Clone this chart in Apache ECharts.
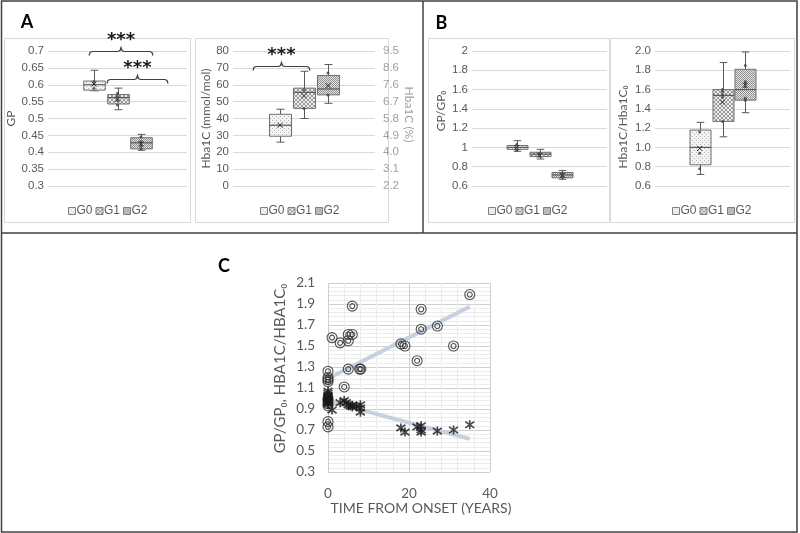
<!DOCTYPE html>
<html><head><meta charset="utf-8">
<script src="https://cdn.jsdelivr.net/npm/echarts@6/dist/echarts.min.js"></script>
<style>html,body{margin:0;padding:0;background:#fff}#c{width:800px;height:533px}</style>
</head><body><div id="c"></div>
<script>
// ---------------- data ----------------
const groups = ['G0', 'G1', 'G2'];
// box stats: [group index, min, q1, median, q3, max, mean]
const gpBoxes = [
  [0, 0.582, 0.584, 0.600, 0.611, 0.643, 0.602],
  [1, 0.526, 0.543, 0.562, 0.571, 0.590, 0.557],
  [2, 0.406, 0.410, 0.428, 0.443, 0.453, 0.425]
];
const gpPoints = [[0, 0.61], [0, 0.59], [1, 0.575], [1, 0.566], [1, 0.553], [1, 0.54], [2, 0.445], [2, 0.432], [2, 0.418], [2, 0.41]];
const hbaBoxes = [
  [0, 26, 29.5, 36, 42.5, 45.5, 36],
  [1, 40, 46, 55.5, 58, 68, 53.5],
  [2, 49, 54, 57.5, 65.5, 72, 59.5]
];
const hbaPoints = [[1, 57], [1, 46], [2, 67], [2, 54]];
const hbaPctLabels = ['2.2', '3.1', '4.0', '4.9', '5.8', '6.7', '7.6', '8.6', '9.5'];
const gpRatioBoxes = [
  [0, 0.96, 0.98, 1.0, 1.02, 1.07, 1.0],
  [1, 0.88, 0.905, 0.93, 0.95, 0.98, 0.92],
  [2, 0.67, 0.685, 0.715, 0.74, 0.76, 0.71]
];
const gpRatioPoints = [[0, 0.97], [0, 1.03], [1, 0.91], [1, 0.94], [2, 0.69], [2, 0.73]];
const hbaRatioBoxes = [
  [0, 0.72, 0.82, 1.0, 1.18, 1.26, 0.99],
  [1, 1.11, 1.27, 1.54, 1.60, 1.88, 1.47],
  [2, 1.36, 1.49, 1.60, 1.81, 1.99, 1.645]
];
const hbaRatioPoints = [[0, 1.16], [0, 0.94], [0, 0.78], [1, 1.60], [1, 1.58], [1, 1.55], [1, 1.52], [1, 1.27],
  [2, 1.85], [2, 1.68], [2, 1.66], [2, 1.63], [2, 1.51], [2, 1.49]];
// significance brackets: [from, to, level]
const gpBrackets = [[-0.21, 2.51, 0.70], [0.55, 3.15, 0.618]];
const hbaBrackets = [[-1.125, 1.25, 71]];
// panel C: [years from onset, ratio]
const timeHba = [[0, 1.26], [0, 1.2], [0, 1.18], [0, 1.16], [0, 1.0], [0, 0.98], [0, 0.95], [0, 0.93], [0, 0.78], [0, 0.73],
  [1, 1.58], [3, 1.53], [4, 1.11], [5, 1.28], [5, 1.55], [5, 1.61], [6, 1.61], [6, 1.88], [7.8, 1.28], [8.1, 1.28],
  [18, 1.52], [19, 1.5], [22, 1.36], [23, 1.85], [23, 1.66], [27, 1.69], [31, 1.5], [35, 1.99]];
const timeGp = [[0, 1.07], [0, 1.05], [0, 1.03], [0, 1.02], [0, 1.01], [0, 1.0], [0, 0.99], [0, 0.98], [0, 0.97], [0, 0.96], [0, 0.95],
  [1, 0.89], [3, 0.96], [4, 0.98], [4.5, 0.96], [5, 0.94], [5.5, 0.93], [6, 0.935], [6, 0.92], [7, 0.925], [8, 0.94], [8, 0.91], [8, 0.87],
  [18, 0.72], [19, 0.68], [22, 0.73], [23, 0.74], [23, 0.70], [23, 0.68], [27, 0.69], [31, 0.70], [35, 0.75]];
const hbaTrend = [[0, 1.19], [35, 1.875]];
const gpTrend = [[0, 0.975], [35, 0.615]];

// ---------------- styling helpers ----------------
const NARROW = '"Liberation Sans Narrow", "Liberation Sans", sans-serif';
const LATO = 'Lato, "Open Sans", sans-serif';
const TXT = '#595959';
const GRIDC = '#d9d9d9';

function makePattern(kind) {
  const c = document.createElement('canvas');
  c.width = 4; c.height = 4;
  const g = c.getContext('2d');
  if (kind === 0) {
    g.fillStyle = '#f3f3f3'; g.fillRect(0, 0, 4, 4);
    g.fillStyle = '#b4b4b4'; g.fillRect(0, 0, 1, 1); g.fillRect(2, 2, 1, 1);
  } else if (kind === 1) {
    g.fillStyle = '#eeeeee'; g.fillRect(0, 0, 4, 4);
    g.fillStyle = '#9a9a9a';
    [[0,0],[1,1],[2,2],[3,3],[0,3],[1,2],[2,1],[3,0]].forEach(p => g.fillRect(p[0], p[1], 1, 1));
  } else {
    g.fillStyle = '#e4e4e4'; g.fillRect(0, 0, 4, 4);
    g.fillStyle = '#8f8f8f';
    [[0,0],[2,0],[1,1],[3,1],[0,2],[2,2],[1,3],[3,3]].forEach(p => g.fillRect(p[0], p[1], 1, 1));
  }
  return { image: c, repeat: 'repeat' };
}
const patterns = [makePattern(0), makePattern(1), makePattern(2)];

function boxRender(k) {
  return function (params, api) {
    const x = api.value(0);
    const v = [1, 2, 3, 4, 5, 6].map(i => api.value(i));
    const P = v.map(y => api.coord([x, y]));
    const cx = Math.round(P[0][0]) + 0.5;
    const w = api.size([1, 0])[0] * 0.92;
    const cap = w * 0.36;
    const st = { stroke: '#595959', lineWidth: 1 };
    const ln = (x1, y1, x2, y2, s) => ({ type: 'line', shape: { x1, y1, x2, y2 }, style: s || st });
    const mx = P[5][0], my = P[5][1];
    return {
      type: 'group', children: [
        ln(cx, P[3][1], cx, P[4][1]),
        ln(cx, P[1][1], cx, P[0][1]),
        ln(cx - cap / 2, P[4][1], cx + cap / 2, P[4][1]),
        ln(cx - cap / 2, P[0][1], cx + cap / 2, P[0][1]),
        { type: 'rect', shape: { x: cx - w / 2, y: P[3][1], width: w, height: P[1][1] - P[3][1] },
          style: { fill: patterns[k], stroke: '#6f6f6f', lineWidth: 1 } },
        ln(cx - w / 2, P[2][1], cx + w / 2, P[2][1], { stroke: '#595959', lineWidth: 1.2 }),
        ln(mx - 2.5, my - 2.5, mx + 2.5, my + 2.5, { stroke: '#262626', lineWidth: 1 }),
        ln(mx - 2.5, my + 2.5, mx + 2.5, my - 2.5, { stroke: '#262626', lineWidth: 1 })
      ]
    };
  };
}

function bracketRender(params, api) {
  const a = api.coord([api.value(0), api.value(2)]);
  const b = api.coord([api.value(1), api.value(2)]);
  const y = Math.round(a[1]) + 0.5, x1 = a[0], x2 = b[0], xc = (x1 + x2) / 2;
  return {
    type: 'group', children: [
      { type: 'polyline', shape: { points: [[x1, y + 4], [x1 + 1, y + 1], [x1 + 3, y], [xc - 3, y], [xc - 1, y - 1], [xc, y - 4],
        [xc + 1, y - 1], [xc + 3, y], [x2 - 3, y], [x2 - 1, y + 1], [x2, y + 4]] },
        style: { stroke: '#404040', lineWidth: 1.2, fill: null } },
      { type: 'text', style: { text: '***', x: xc, y: y - 11, align: 'center', verticalAlign: 'middle',
        font: 'bold 18px "DejaVu Sans"', fill: '#1a1a1a' } }
    ]
  };
}

const boxX = gi => ({ type: 'value', gridIndex: gi, min: -1.957, max: 3.957, show: false });
const baseY = (gi, extra) => Object.assign({
  type: 'value', gridIndex: gi, axisLine: { show: false }, axisTick: { show: false },
  splitLine: { lineStyle: { color: GRIDC, width: 1 } },
  axisLabel: { color: TXT, fontSize: 11.5, fontFamily: NARROW, margin: 4 },
  nameLocation: 'middle', nameTextStyle: { color: TXT, fontSize: 12, fontFamily: LATO }
}, extra);

const option = {
  animation: false,
  grid: [
    { left: 48, top: 51, width: 139, height: 135 },
    { left: 233, top: 51, width: 142, height: 135 },
    { left: 472, top: 51, width: 135, height: 135 },
    { left: 655, top: 51, width: 135, height: 135 },
    { left: 328, top: 283, width: 162, height: 189 }
  ],
  xAxis: [boxX(0), boxX(1), boxX(2), boxX(3), {
    type: 'value', gridIndex: 4, min: 0, max: 40, interval: 20,
    axisLine: { show: false }, axisTick: { show: false },
    minorTick: { show: false, splitNumber: 5 },
    splitLine: { lineStyle: { color: '#cfcfcf' } },
    minorSplitLine: { show: true, lineStyle: { color: '#ececec' } },
    axisLabel: { color: TXT, fontSize: 13.5, fontFamily: LATO, margin: 15 },
    name: 'TIME FROM ONSET (YEARS)', nameLocation: 'middle', nameGap: 27,
    nameTextStyle: { color: TXT, fontSize: 14, fontFamily: LATO, padding: [0, 0, 0, 24] }
  }],
  yAxis: [
    baseY(0, { min: 0.3, max: 0.7, interval: 0.05, name: 'GP', nameGap: 31 }),
    baseY(1, { min: 0, max: 80, interval: 10, name: 'Hba1C (mmol/mol)', nameGap: 18 }),
    baseY(1, { min: 0, max: 80, interval: 10, position: 'right', splitLine: { show: false },
      axisLabel: { color: '#a0a0a0', fontSize: 11.5, fontFamily: NARROW, margin: 8,
        formatter: v => hbaPctLabels[Math.round(v / 10)] },
      name: 'Hba1C (%)', nameRotate: -90, nameGap: 26,
      nameTextStyle: { color: '#a0a0a0', fontSize: 12, fontFamily: LATO, padding: [0, 8, 0, 0] } }),
    baseY(2, { min: 0.6, max: 2, interval: 0.2, name: 'GP/GP₀', nameGap: 25,
      nameTextStyle: { color: TXT, fontSize: 12, fontFamily: LATO, padding: [0, 0, 0, 15] } }),
    baseY(3, { min: 0.6, max: 2.0, interval: 0.2, name: 'Hba1C/Hba1C₀', nameGap: 26,
      axisLabel: { color: TXT, fontSize: 11.5, fontFamily: NARROW, margin: 4, formatter: v => v.toFixed(1) },
      nameTextStyle: { color: TXT, fontSize: 12, fontFamily: LATO, padding: [0, 17, 0, 0] } }),
    {
      type: 'value', gridIndex: 4, min: 0.3, max: 2.1, interval: 0.2,
      axisLine: { show: false }, axisTick: { show: false },
      minorTick: { show: false, splitNumber: 5 },
      splitLine: { lineStyle: { color: '#cfcfcf' } },
      minorSplitLine: { show: true, lineStyle: { color: '#ececec' } },
      axisLabel: { color: TXT, fontSize: 13.5, fontFamily: LATO, margin: 13 },
      name: 'GP/GP₀, HBA1C/HBA1C₀', nameLocation: 'middle', nameGap: 40,
      nameTextStyle: { color: TXT, fontSize: 15, fontFamily: LATO, padding: [0, 0, 0, 18] }
    }
  ],
  legend: [63, 255, 483, 667].map(l => ({
    left: l, top: 200, itemWidth: 7, itemHeight: 7, itemGap: 3, icon: 'rect', selectedMode: false,
    textStyle: { color: TXT, fontSize: 12, fontFamily: NARROW, padding: [0, 0, 0, -4] },
    data: groups.map((g, k) => ({ name: g, itemStyle: { color: patterns[k], borderColor: '#7f7f7f', borderWidth: 1 } }))
  })),
  series: [],
  graphic: []
};

const panels = [
  { boxes: gpBoxes, points: gpPoints, xi: 0, yi: 0 },
  { boxes: hbaBoxes, points: hbaPoints, xi: 1, yi: 1 },
  { boxes: gpRatioBoxes, points: gpRatioPoints, xi: 2, yi: 3 },
  { boxes: hbaRatioBoxes, points: hbaRatioPoints, xi: 3, yi: 4 }
];
panels.forEach(p => {
  p.boxes.forEach((b, k) => option.series.push({
    type: 'custom', name: groups[k], xAxisIndex: p.xi, yAxisIndex: p.yi, data: [b],
    renderItem: boxRender(k), encode: { x: 0, y: [1, 2, 3, 4, 5] }, z: 2, silent: true,
    itemStyle: { color: patterns[k], borderColor: '#7f7f7f' }
  }));
  option.series.push({
    type: 'scatter', xAxisIndex: p.xi, yAxisIndex: p.yi, data: p.points, symbolSize: 3,
    itemStyle: { color: '#404040' }, z: 3, silent: true
  });
});
option.series.push(
  { type: 'custom', xAxisIndex: 0, yAxisIndex: 0, data: gpBrackets, renderItem: bracketRender, encode: { x: [0, 1], y: 2 }, silent: true, z: 4 },
  { type: 'custom', xAxisIndex: 1, yAxisIndex: 1, data: hbaBrackets, renderItem: bracketRender, encode: { x: [0, 1], y: 2 }, silent: true, z: 4 },
  { type: 'line', xAxisIndex: 4, yAxisIndex: 5, data: hbaTrend, symbol: 'none', lineStyle: { color: '#c6d0e0', width: 4 }, z: 1, silent: true },
  { type: 'line', xAxisIndex: 4, yAxisIndex: 5, data: gpTrend, symbol: 'none', lineStyle: { color: '#c6d0e0', width: 4 }, z: 1, silent: true },
  { type: 'scatter', xAxisIndex: 4, yAxisIndex: 5, data: timeHba, symbol: 'circle', symbolSize: 10,
    itemStyle: { color: 'rgba(0,0,0,0)', borderColor: '#262626', borderWidth: 1.1 }, z: 3, silent: true },
  { type: 'scatter', xAxisIndex: 4, yAxisIndex: 5, data: timeHba, symbol: 'circle', symbolSize: 5,
    itemStyle: { color: 'rgba(0,0,0,0)', borderColor: '#262626', borderWidth: 1.1 }, z: 3, silent: true },
  { type: 'scatter', xAxisIndex: 4, yAxisIndex: 5, data: timeGp,
    symbol: 'path://M5,0L5,10M1.5,1.5L8.5,8.5M1.5,8.5L8.5,1.5', symbolSize: 9,
    itemStyle: { color: 'rgba(0,0,0,0)', borderColor: '#1a1a1a', borderWidth: 1.7 }, z: 4, silent: true }
);

const frame = { stroke: '#404040', lineWidth: 1.5 };
const box = { fill: null, stroke: GRIDC, lineWidth: 1 };
option.graphic = [
  { type: 'rect', silent: true, shape: { x: 4.5, y: 38.5, width: 186, height: 184 }, style: box },
  { type: 'rect', silent: true, shape: { x: 195.5, y: 38.5, width: 193, height: 184 }, style: box },
  { type: 'rect', silent: true, shape: { x: 428.5, y: 38.5, width: 181, height: 184 }, style: box },
  { type: 'rect', silent: true, shape: { x: 610.5, y: 38.5, width: 184, height: 184 }, style: box },
  { type: 'rect', silent: true, shape: { x: 1.5, y: 1, width: 795.5, height: 531 }, style: { fill: null, stroke: '#404040', lineWidth: 1.5 } },
  { type: 'line', silent: true, shape: { x1: 1.5, y1: 233, x2: 797, y2: 233 }, style: frame },
  { type: 'line', silent: true, shape: { x1: 423, y1: 1, x2: 423, y2: 233 }, style: frame },
  { type: 'text', silent: true, style: { text: 'A', x: 27, y: 22.5, align: 'center', verticalAlign: 'middle', font: 'bold 18px Lato', fill: '#000' } },
  { type: 'text', silent: true, style: { text: 'B', x: 441.5, y: 23, align: 'center', verticalAlign: 'middle', font: 'bold 18px Lato', fill: '#000' } },
  { type: 'text', silent: true, style: { text: 'C', x: 224, y: 266, align: 'center', verticalAlign: 'middle', font: 'bold 18px Lato', fill: '#000' } }
];

const chart = echarts.init(document.getElementById('c'), null, { renderer: 'canvas' });
chart.setOption(option);
</script>
</body></html>
